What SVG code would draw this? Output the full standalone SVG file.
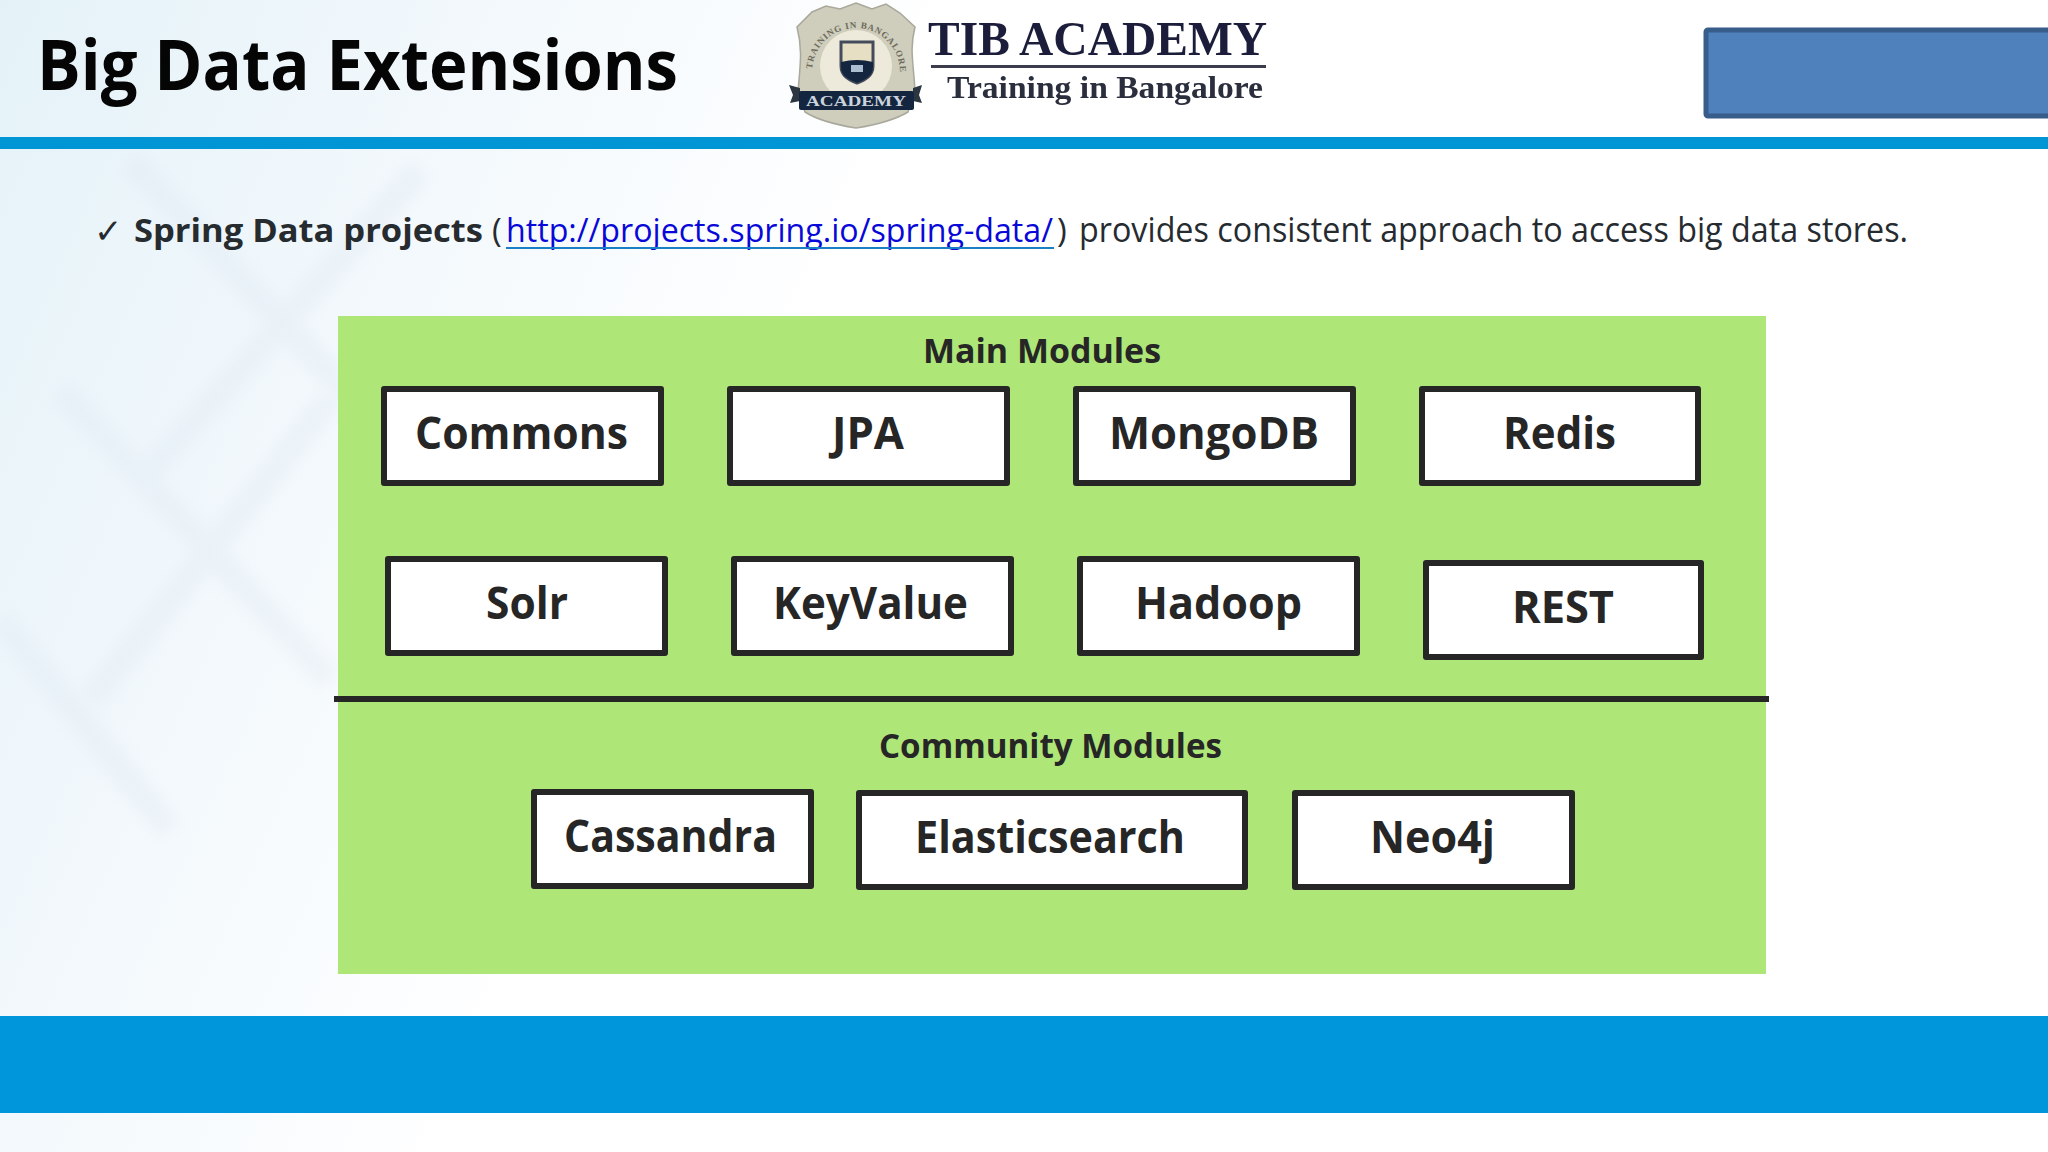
<svg xmlns="http://www.w3.org/2000/svg" width="2048" height="1152" viewBox="0 0 2048 1152">
<style>
.s{font-family:"Open Sans","Noto Sans","Liberation Sans",sans-serif;font-weight:700;fill:#262626}
.r{font-family:"Open Sans","Noto Sans","Liberation Sans",sans-serif;font-weight:400;fill:#262b30}
.b{fill:#fff;stroke:#262626;stroke-width:6;stroke-linejoin:round}
.l{font-size:45px}
.h{font-size:34px}
.t{font-family:"Liberation Serif",serif;font-weight:700;fill:#1b1f3a}
</style>
<defs>
<linearGradient id="bg" x1="0" y1="0" x2="1" y2="0.25"><stop offset="0" stop-color="#e4f2f8"/><stop offset="0.22" stop-color="#f2f8fc"/><stop offset="0.45" stop-color="#fff"/></linearGradient>
<filter id="sf"><feGaussianBlur stdDeviation="7"/></filter>
<filter id="sl"><feGaussianBlur stdDeviation="0.6"/></filter>
<path id="arc" d="M812 72A44 44 0 1 1 900 72"/>
</defs>
<g id="background">
<rect width="2048" height="1152" fill="#fff"/>
<rect width="2048" height="1152" fill="url(#bg)"/>
<g filter="url(#sf)" fill="none" stroke="#dbe6ef" stroke-width="26" opacity="0.3">
<path d="M130 160L420 470"/>
<path d="M420 170L150 470"/>
<path d="M60 390L330 680"/>
<path d="M330 400L90 700"/>
<path d="M0 620L170 830"/>
</g>
</g>
<rect id="top-bar" x="0" y="137" width="2048" height="12" fill="#0096d6"/>
<rect id="bottom-bar" x="0" y="1016" width="2048" height="97" fill="#0096db"/>
<text class="s" x="37" y="90" font-size="69" textLength="641" lengthAdjust="spacingAndGlyphs" style="fill:#050505">Big Data Extensions</text>
<g id="logo">
<path d="M856 3L872 9L886 4L900 13L915 27C909 50 914 66 915 92L908 112C893 121 875 125 856 128C837 125 819 121 805 112L798 92C800 66 803 50 797 27L812 12L826 6L840 9Z" fill="#cfcdbb" stroke="#a9a89c" stroke-width="1.5"/>
<circle cx="856" cy="66" r="36" fill="#eeeadb"/>
<text font-family="Liberation Serif, serif" font-size="9" font-weight="700" fill="#6c6b5c"><textPath href="#arc" startOffset="3" textLength="135">TRAINING IN BANGALORE</textPath></text>
<path d="M841 42H873V66C873 76 865 80 857 83C849 80 841 76 841 66Z" fill="#e7dfc4" stroke="#444b5b" stroke-width="3"/>
<path d="M841 62Q857 58 873 62V67C873 76 865 80 857 83C849 80 841 76 841 67Z" fill="#14263f"/>
<rect x="851" y="65" width="12" height="7" fill="#a9bed0"/>
<path d="M800 88L789 85L793 95L790 103L800 101ZM913 88L922 85L919 95L922 103L913 101Z" fill="#2c3640"/>
<rect x="799" y="91" width="115" height="19" rx="2" fill="#14263f"/>
<text x="856" y="106" font-family="Liberation Serif, serif" font-size="14" font-weight="700" text-anchor="middle" fill="#cbd3dc" textLength="100" lengthAdjust="spacingAndGlyphs">ACADEMY</text>
<g filter="url(#sl)">
<text class="t" x="928" y="55" font-size="49" textLength="339" lengthAdjust="spacingAndGlyphs">TIB ACADEMY</text>
<rect x="931" y="65" width="335" height="3" fill="#3a3d4d"/>
<text class="t" x="947" y="98" font-size="32" textLength="316" lengthAdjust="spacingAndGlyphs" style="fill:#2a2d3d">Training in Bangalore</text>
</g>
</g>
<rect id="blue-box" x="1706" y="30" width="350" height="86" rx="2" fill="#4f81bd" stroke="#385d8a" stroke-width="5"/>
<g id="bullet">
<text x="94" y="243" font-family="DejaVu Sans, sans-serif" font-size="34" fill="#262b30">✓</text>
<text class="s" x="134" y="242" font-size="33" textLength="349" lengthAdjust="spacingAndGlyphs" style="fill:#262b30">Spring Data projects</text>
<text class="r" x="492" y="242" font-size="33">(</text>
<text class="r" x="506" y="242" font-size="32.5" textLength="547" lengthAdjust="spacingAndGlyphs" style="fill:#0808d8">http://projects.spring.io/spring-data/</text>
<rect x="506" y="247" width="548" height="2" fill="#1a7fc4"/>
<text class="r" x="1057" y="242" font-size="33">)</text>
<text class="r" x="1079" y="242" font-size="35" textLength="829" lengthAdjust="spacingAndGlyphs">provides consistent approach to access big data  stores.</text>
</g>
<rect id="panel" x="338" y="316" width="1428" height="658" fill="#aee778"/>
<g id="connectors"><line x1="334" y1="699" x2="1769" y2="699" stroke="#262626" stroke-width="6"/></g>
<text class="s h" x="923" y="363" textLength="238" lengthAdjust="spacingAndGlyphs">Main Modules</text>
<text class="s h" x="879" y="758" textLength="343" lengthAdjust="spacingAndGlyphs">Community Modules</text>
<g id="commons"><rect class="b" x="384" y="389" width="277" height="94"/><text class="s l" x="415" y="449" textLength="213" lengthAdjust="spacingAndGlyphs">Commons</text></g>
<g id="jpa"><rect class="b" x="730" y="389" width="277" height="94"/><text class="s l" x="832" y="449" textLength="72" lengthAdjust="spacingAndGlyphs">JPA</text></g>
<g id="mongodb"><rect class="b" x="1076" y="389" width="277" height="94"/><text class="s l" x="1109" y="449" textLength="210" lengthAdjust="spacingAndGlyphs">MongoDB</text></g>
<g id="redis"><rect class="b" x="1422" y="389" width="276" height="94"/><text class="s l" x="1503" y="449" textLength="113" lengthAdjust="spacingAndGlyphs">Redis</text></g>
<g id="solr"><rect class="b" x="388" y="559" width="277" height="94"/><text class="s l" x="486" y="619" textLength="82" lengthAdjust="spacingAndGlyphs">Solr</text></g>
<g id="keyvalue"><rect class="b" x="734" y="559" width="277" height="94"/><text class="s l" x="773" y="619" textLength="195" lengthAdjust="spacingAndGlyphs">KeyValue</text></g>
<g id="hadoop"><rect class="b" x="1080" y="559" width="277" height="94"/><text class="s l" x="1135" y="619" textLength="167" lengthAdjust="spacingAndGlyphs">Hadoop</text></g>
<g id="rest"><rect class="b" x="1426" y="563" width="275" height="94"/><text class="s l" x="1512" y="623" textLength="102" lengthAdjust="spacingAndGlyphs">REST</text></g>
<g id="cassandra"><rect class="b" x="534" y="792" width="277" height="94"/><text class="s l" x="564" y="852" textLength="213" lengthAdjust="spacingAndGlyphs">Cassandra</text></g>
<g id="elasticsearch"><rect class="b" x="859" y="793" width="386" height="94"/><text class="s l" x="915" y="853" textLength="270" lengthAdjust="spacingAndGlyphs">Elasticsearch</text></g>
<g id="neo4j"><rect class="b" x="1295" y="793" width="277" height="94"/><text class="s l" x="1370" y="853" textLength="125" lengthAdjust="spacingAndGlyphs">Neo4j</text></g>
</svg>
